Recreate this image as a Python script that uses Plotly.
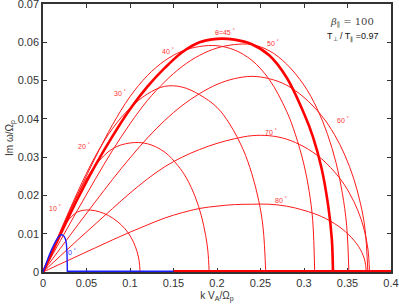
import plotly.graph_objects as go

# ---- data (k V_A/Omega_p , Im omega/Omega_p) ----
k_0 = [0, 0.005, 0.01, 0.015, 0.018, 0.0205, 0.023, 0.0256, 0.0268, 0.0275, 0.028]
g_0 = [0, 0.0031, 0.0059, 0.0082, 0.0092, 0.0097, 0.0096, 0.0087, 0.0075, 0.0050, 0]

k_10 = [0, 0.01, 0.02, 0.03, 0.04, 0.05, 0.06, 0.07, 0.08, 0.09, 0.098, 0.104, 0.108, 0.1105, 0.1116]
g_10 = [0, 0.0053, 0.0101, 0.0138, 0.0157, 0.0162, 0.0160, 0.0153, 0.0141, 0.0123, 0.0102, 0.0078, 0.0054, 0.0029, 0]

k_20 = [0, 0.02, 0.04, 0.06, 0.08, 0.1, 0.12, 0.14, 0.155, 0.165, 0.175, 0.182, 0.187, 0.1895, 0.191]
g_20 = [0, 0.0105, 0.0203, 0.0278, 0.0322, 0.0337, 0.0335, 0.0313, 0.0278, 0.0245, 0.0196, 0.0147, 0.0095, 0.0055, 0]

k_30 = [0, 0.02, 0.04, 0.06, 0.08, 0.1, 0.12, 0.14, 0.16, 0.18, 0.2, 0.215, 0.23, 0.24, 0.248, 0.253, 0.256]
g_30 = [0, 0.0107, 0.0210, 0.0302, 0.0375, 0.0428, 0.0465, 0.0485, 0.0483, 0.0463, 0.0430, 0.0385, 0.0320, 0.0257, 0.0186, 0.0115, 0]

k_40 = [0, 0.02, 0.04, 0.06, 0.08, 0.1, 0.12, 0.14, 0.16, 0.18, 0.2, 0.22, 0.24, 0.26, 0.28, 0.29, 0.3, 0.306, 0.31, 0.3123]
g_40 = [0, 0.0103, 0.0203, 0.0298, 0.0385, 0.0458, 0.0513, 0.0552, 0.0577, 0.0589, 0.0591, 0.0580, 0.0553, 0.0503, 0.0420, 0.0360, 0.0280, 0.0210, 0.0135, 0]

k_45 = [0, 0.02, 0.04, 0.06, 0.08, 0.1, 0.12, 0.14, 0.16, 0.18, 0.2, 0.22, 0.24, 0.26, 0.28, 0.3, 0.31, 0.32, 0.328, 0.332, 0.3333]
g_45 = [0, 0.0098, 0.0192, 0.0278, 0.0355, 0.0425, 0.0484, 0.0533, 0.0574, 0.0600, 0.0609, 0.0607, 0.0595, 0.0566, 0.0508, 0.0414, 0.0355, 0.0273, 0.0170, 0.0085, 0]

k_50 = [0, 0.02, 0.04, 0.06, 0.08, 0.1, 0.12, 0.14, 0.16, 0.18, 0.2, 0.22, 0.24, 0.26, 0.28, 0.3, 0.315, 0.327, 0.337, 0.344, 0.349, 0.3516]
g_50 = [0, 0.0082, 0.0163, 0.0242, 0.0318, 0.0387, 0.0448, 0.0497, 0.0537, 0.0566, 0.0585, 0.0594, 0.0594, 0.0578, 0.0543, 0.0488, 0.0427, 0.0360, 0.0284, 0.0207, 0.0122, 0]

k_60 = [0, 0.02, 0.04, 0.06, 0.08, 0.1, 0.12, 0.14, 0.16, 0.18, 0.2, 0.22, 0.24, 0.26, 0.28, 0.3, 0.32, 0.335, 0.347, 0.357, 0.365, 0.37, 0.3734]
g_60 = [0, 0.0062, 0.0123, 0.0183, 0.0242, 0.0298, 0.0350, 0.0396, 0.0435, 0.0466, 0.0490, 0.0505, 0.0511, 0.0505, 0.0488, 0.0456, 0.0409, 0.0359, 0.0305, 0.0245, 0.0178, 0.0115, 0]

k_70 = [0, 0.02, 0.04, 0.06, 0.08, 0.1, 0.12, 0.14, 0.16, 0.18, 0.2, 0.22, 0.24, 0.26, 0.28, 0.3, 0.32, 0.34, 0.352, 0.362, 0.369, 0.3735, 0.3753]
g_70 = [0, 0.0042, 0.0084, 0.0125, 0.0166, 0.0206, 0.0243, 0.0275, 0.0300, 0.0320, 0.0336, 0.0348, 0.0356, 0.0356, 0.0347, 0.0327, 0.0296, 0.0248, 0.0207, 0.0160, 0.0112, 0.0060, 0]

k_80 = [0, 0.02, 0.04, 0.06, 0.08, 0.1, 0.12, 0.14, 0.16, 0.18, 0.2, 0.22, 0.24, 0.26, 0.28, 0.3, 0.32, 0.34, 0.355, 0.365, 0.37, 0.3716]
g_80 = [0, 0.0021, 0.0042, 0.0063, 0.0084, 0.0104, 0.0123, 0.0141, 0.0155, 0.0166, 0.0172, 0.0176, 0.0177, 0.0177, 0.0172, 0.0161, 0.0145, 0.0119, 0.0089, 0.0058, 0.0029, 0]

# zero-growth stretches along the k axis
k_zero_blue = [0.028, 0.15]
k_zero_red = [0.15, 0.4]
g_zero = [0, 0]

angle_labels = ["0", "10", "20", "30", "40", "θ=45", "50", "60", "70", "80"]

x_ticks = [0, 0.05, 0.1, 0.15, 0.2, 0.25, 0.3, 0.35, 0.4]
x_ticktext = ["0", "0.05", "0.1", "0.15", "0.2", "0.25", "0.3", "0.35", "0.4"]
y_ticks = [0, 0.01, 0.02, 0.03, 0.04, 0.05, 0.06, 0.07]
y_ticktext = ["0", "0.01", "0.02", "0.03", "0.04", "0.05", "0.06", "0.07"]

RED = "#ff1a1a"
BLUE = "#1a1aff"

fig = go.Figure()

red_curves = [(k_10, g_10), (k_20, g_20), (k_30, g_30), (k_40, g_40), (k_50, g_50),
              (k_60, g_60), (k_70, g_70), (k_80, g_80)]
for kk, gg in red_curves:
    fig.add_trace(go.Scatter(x=kk, y=gg, mode="lines",
                             line=dict(color=RED, width=1, shape="spline", smoothing=1.0),
                             hoverinfo="skip", showlegend=False))

fig.add_trace(go.Scatter(x=k_45, y=g_45, mode="lines",
                         line=dict(color="#ff0000", width=2.6, shape="spline", smoothing=1.0),
                         hoverinfo="skip", showlegend=False))
fig.add_trace(go.Scatter(x=k_zero_red, y=g_zero, mode="lines", line=dict(color="#ff0000", width=4),
                         hoverinfo="skip", showlegend=False))
fig.add_trace(go.Scatter(x=k_0, y=g_0, mode="lines",
                         line=dict(color=BLUE, width=1.4, shape="spline", smoothing=1.0),
                         hoverinfo="skip", showlegend=False))
fig.add_trace(go.Scatter(x=k_zero_blue, y=g_zero, mode="lines", line=dict(color=BLUE, width=3),
                         hoverinfo="skip", showlegend=False))

# angle labels
label_pos = [(0.0333, 0.0051), (0.0141, 0.0168), (0.0466, 0.0329), (0.0886, 0.0468), (0.144, 0.0577),
             (0.2094, 0.0627), (0.2641, 0.0597), (0.3444, 0.0398), (0.2626, 0.0366), (0.2741, 0.0187)]
for i, (lab, (lx, ly)) in enumerate(zip(angle_labels, label_pos)):
    fig.add_annotation(x=lx, y=ly, text=lab + " <sup>°</sup>", showarrow=False,
                       font=dict(family="Liberation Sans, Arial", size=7,
                                 color="#3333ff" if i == 0 else "#ff3333"))

fig.add_annotation(xref="paper", yref="paper", x=0.82, y=0.930, xanchor="left", yanchor="middle",
                   text="<i>β</i><sub>∥</sub> = 100", showarrow=False,
                   font=dict(family="DejaVu Serif, Liberation Serif", size=10, color="#444444"))
fig.add_annotation(xref="paper", yref="paper", x=0.81, y=0.876, xanchor="left", yanchor="middle",
                   text="T<sub>⊥</sub> / T<sub>∥</sub> =0.97", showarrow=False,
                   font=dict(family="Liberation Sans, Arial", size=9, color="#111111"))

axis_common = dict(showgrid=False, zeroline=False, showline=True, linecolor="#333333", linewidth=1.5,
                   mirror="ticks", ticks="inside", ticklen=4, tickwidth=1, tickcolor="#333333",
                   tickfont=dict(family="Liberation Sans, Arial", size=11, color="#333333"),
                   layer="below traces", automargin=False, ticklabeloverflow="allow")

fig.update_xaxes(range=[0, 0.4], tickvals=x_ticks, ticktext=x_ticktext,
                 title=dict(text="k V<sub>A</sub>/Ω<sub>p</sub>", standoff=4,
                            font=dict(family="Liberation Sans, Arial", size=10, color="#333333")),
                 **axis_common)
fig.update_yaxes(range=[0, 0.07], tickvals=y_ticks, ticktext=y_ticktext,
                 title=dict(text="Im ω/Ω<sub>p</sub>", standoff=2,
                            font=dict(family="Liberation Sans, Arial", size=10, color="#333333")),
                 **axis_common)

fig.update_layout(width=399, height=306, margin=dict(l=43, r=8, t=4, b=34, autoexpand=False),
                  paper_bgcolor="white", plot_bgcolor="white", showlegend=False)

fig.write_html("out.html", config={"displayModeBar": False},
               post_script="document.body.style.margin='0px';document.body.style.overflow='hidden';")
